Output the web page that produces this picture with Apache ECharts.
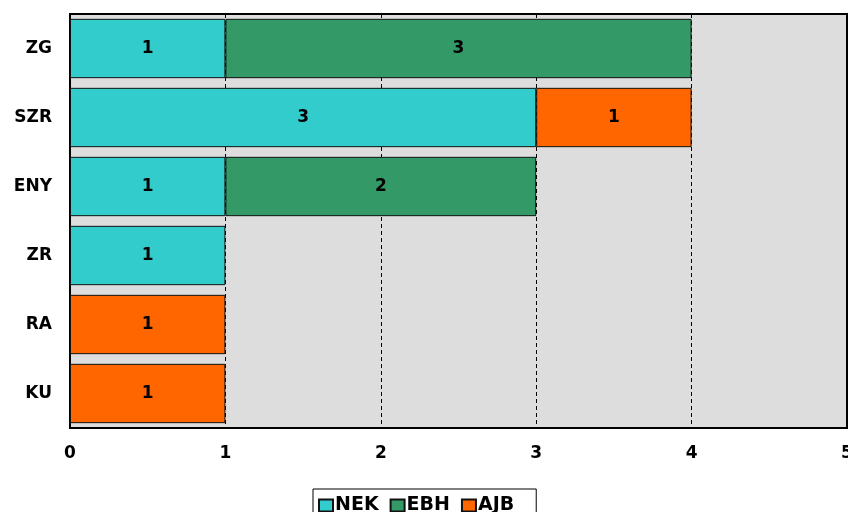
<!DOCTYPE html>
<html><head><meta charset="utf-8">
<script src="https://cdn.jsdelivr.net/npm/echarts@6/dist/echarts.min.js"></script>
<style>html,body{margin:0;padding:0;background:#fff}#c{width:848px;height:512px}</style>
</head><body><div id="c"></div>
<script>
const categories = ['ZG','SZR','ENY','ZR','RA','KU'];
const nek = [1,3,1,1,null,null];
const ebh = [3,null,2,null,null,null];
const ajb = [null,1,null,null,1,1];
const xTicks = [0,1,2,3,4,5];
const FONT = 'DejaVu Sans';
const chart = echarts.init(document.getElementById('c'));
const lbl = {show:true, position:'inside', color:'#000', fontFamily:FONT, fontWeight:'bold', fontSize:17, formatter: p => p.value};
function s(name, data, color){
  return {name, type:'bar', stack:'t', data, barCategoryGap:'14%',
    itemStyle:{color, borderColor:'#111', borderWidth:1}, label:lbl};
}
chart.setOption({
  animation:false,
  textStyle:{fontFamily:FONT},
  grid:{left:70, right:1, top:14, bottom:84, containLabel:false, outerBoundsMode:'none', show:true, backgroundColor:'#DDDDDD', borderColor:'#000', borderWidth:2},
  xAxis:{type:'value', min:xTicks[0], max:xTicks[xTicks.length-1], interval:1,
    axisLine:{show:true, lineStyle:{color:'#000', width:2}}, axisTick:{show:false},
    axisLabel:{color:'#000', fontFamily:FONT, fontWeight:'bold', fontSize:17, margin:17},
    splitLine:{show:true, lineStyle:{color:'#000', type:[4,3], width:1}}},
  yAxis:{type:'category', data:categories, inverse:true,
    axisLine:{show:true, lineStyle:{color:'#000', width:1}}, axisTick:{show:false},
    axisLabel:{color:'#000', fontFamily:FONT, fontWeight:'bold', fontSize:17, margin:18}},
  legend:{top:489, left:313, data:['NEK','EBH','AJB'], icon:'rect', itemWidth:14, itemHeight:12, itemGap:11,
    borderColor:'#000', borderWidth:1, padding:[7,22,8,5], borderRadius:0,
    textStyle:{color:'#000', fontFamily:FONT, fontWeight:'bold', fontSize:19, padding:[0,0,0,-3]}},
  series:[s('NEK',nek,'#33CCCC'), s('EBH',ebh,'#339966'), s('AJB',ajb,'#FF6600')]
});
</script></body></html>
